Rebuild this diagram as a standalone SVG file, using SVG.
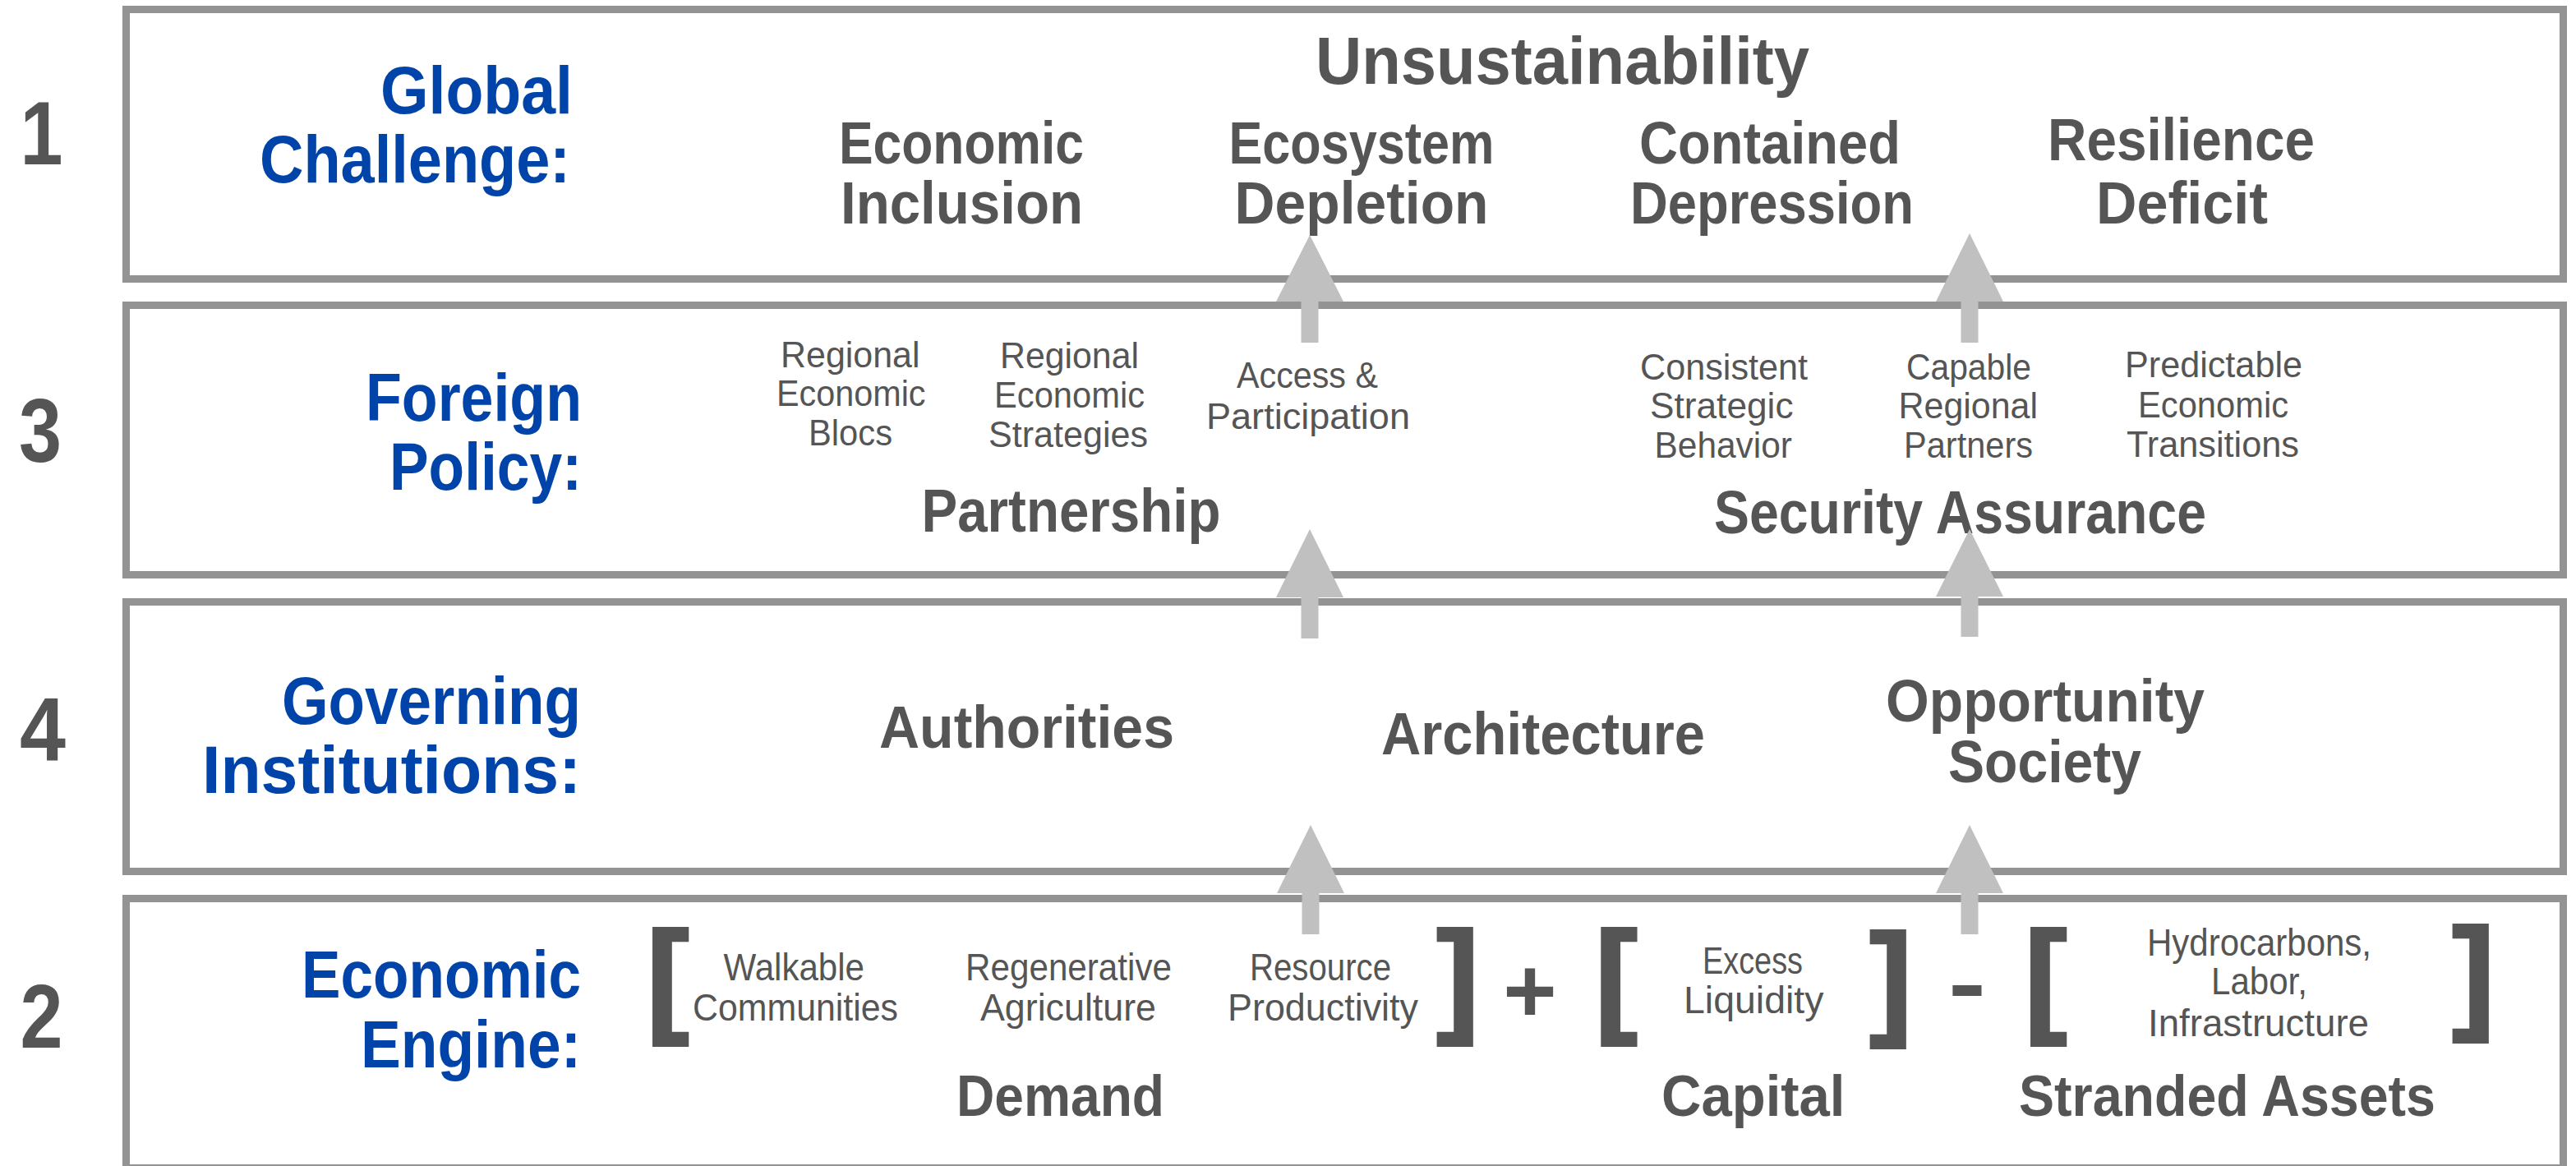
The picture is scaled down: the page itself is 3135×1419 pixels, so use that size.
<svg xmlns="http://www.w3.org/2000/svg" width="3135" height="1419" viewBox="0 0 3135 1419">
<style>
text{font-family:"Liberation Sans Narrow","Liberation Sans",Arial,sans-serif;fill:#555555}
.box{fill:#ffffff;stroke:#939393;stroke-width:9}
.num{font-weight:700;font-size:110px}
.lbl{font-weight:700;font-size:81px;fill:#0043A9}
.big{font-weight:700;font-size:82px}
.mid{font-weight:700;font-size:73px}
.sm{font-weight:400;font-size:45px}
.sm4{font-weight:400;font-size:46px}
.op{font-family:"Liberation Sans",Arial,sans-serif;font-weight:700}
.br{font-family:"Liberation Sans",Arial,sans-serif;font-weight:700;font-size:152px;text-anchor:middle;stroke:#555555;stroke-width:4}
.arrow{fill:#C0C0C0}
</style>
<rect width="3135" height="1419" fill="#ffffff"/>

<g id="layer-global-challenge">
  <rect class="box" x="153.5" y="11.5" width="2966" height="328"/>
  <text class="num" x="24.5" y="200" textLength="52" lengthAdjust="spacingAndGlyphs">1</text>
  <text class="lbl" x="463" y="138" textLength="234" lengthAdjust="spacingAndGlyphs">Global</text>
  <text class="lbl" x="316" y="222" textLength="378" lengthAdjust="spacingAndGlyphs">Challenge:</text>
  <g id="unsustainability"><text class="big" x="1601" y="102" textLength="601" lengthAdjust="spacingAndGlyphs">Unsustainability</text></g>
  <g id="economic-inclusion">
    <text class="mid" x="1021" y="199" textLength="298" lengthAdjust="spacingAndGlyphs">Economic</text>
    <text class="mid" x="1023" y="272" textLength="295" lengthAdjust="spacingAndGlyphs">Inclusion</text>
  </g>
  <g id="ecosystem-depletion">
    <text class="mid" x="1495.5" y="199" textLength="323" lengthAdjust="spacingAndGlyphs">Ecosystem</text>
    <text class="mid" x="1502.5" y="272" textLength="309" lengthAdjust="spacingAndGlyphs">Depletion</text>
  </g>
  <g id="contained-depression">
    <text class="mid" x="1995" y="199" textLength="318" lengthAdjust="spacingAndGlyphs">Contained</text>
    <text class="mid" x="1984" y="272" textLength="345" lengthAdjust="spacingAndGlyphs">Depression</text>
  </g>
  <g id="resilience-deficit">
    <text class="mid" x="2492" y="195" textLength="325" lengthAdjust="spacingAndGlyphs">Resilience</text>
    <text class="mid" x="2551" y="272" textLength="209" lengthAdjust="spacingAndGlyphs">Deficit</text>
  </g>
</g>

<g id="layer-foreign-policy">
  <rect class="box" x="153.5" y="371.5" width="2966" height="328"/>
  <text class="num" x="23" y="562" textLength="52" lengthAdjust="spacingAndGlyphs">3</text>
  <text class="lbl" x="445" y="512" textLength="263" lengthAdjust="spacingAndGlyphs">Foreign</text>
  <text class="lbl" x="474" y="596" textLength="234" lengthAdjust="spacingAndGlyphs">Policy:</text>
  <g id="regional-economic-blocs">
    <text class="sm" x="950" y="447" textLength="169.5" lengthAdjust="spacingAndGlyphs">Regional</text>
    <text class="sm" x="945" y="494" textLength="181.5" lengthAdjust="spacingAndGlyphs">Economic</text>
    <text class="sm" x="984" y="542" textLength="102" lengthAdjust="spacingAndGlyphs">Blocs</text>
  </g>
  <g id="regional-economic-strategies">
    <text class="sm" x="1217" y="448" textLength="169" lengthAdjust="spacingAndGlyphs">Regional</text>
    <text class="sm" x="1210" y="496" textLength="183" lengthAdjust="spacingAndGlyphs">Economic</text>
    <text class="sm" x="1203" y="544" textLength="194" lengthAdjust="spacingAndGlyphs">Strategies</text>
  </g>
  <g id="access-participation">
    <text class="sm" x="1505" y="472" textLength="172" lengthAdjust="spacingAndGlyphs">Access &amp;</text>
    <text class="sm" x="1468" y="522" textLength="248" lengthAdjust="spacingAndGlyphs">Participation</text>
  </g>
  <g id="consistent-strategic-behavior">
    <text class="sm" x="1996" y="462" textLength="204" lengthAdjust="spacingAndGlyphs">Consistent</text>
    <text class="sm" x="2008" y="509" textLength="174.5" lengthAdjust="spacingAndGlyphs">Strategic</text>
    <text class="sm" x="2013.5" y="557" textLength="167.5" lengthAdjust="spacingAndGlyphs">Behavior</text>
  </g>
  <g id="capable-regional-partners">
    <text class="sm" x="2320" y="462" textLength="152" lengthAdjust="spacingAndGlyphs">Capable</text>
    <text class="sm" x="2310.5" y="509" textLength="169.5" lengthAdjust="spacingAndGlyphs">Regional</text>
    <text class="sm" x="2317" y="557" textLength="157" lengthAdjust="spacingAndGlyphs">Partners</text>
  </g>
  <g id="predictable-economic-transitions">
    <text class="sm" x="2586" y="459" textLength="216" lengthAdjust="spacingAndGlyphs">Predictable</text>
    <text class="sm" x="2602" y="508" textLength="183" lengthAdjust="spacingAndGlyphs">Economic</text>
    <text class="sm" x="2588" y="556" textLength="210" lengthAdjust="spacingAndGlyphs">Transitions</text>
  </g>
  <g id="partnership"><text class="mid" style="font-size:74px" x="1121.5" y="647" textLength="364" lengthAdjust="spacingAndGlyphs">Partnership</text></g>
  <g id="security-assurance"><text class="mid" style="font-size:74px" x="2086" y="649" textLength="599" lengthAdjust="spacingAndGlyphs">Security Assurance</text></g>
</g>

<g id="layer-governing-institutions">
  <rect class="box" x="153.5" y="732.5" width="2966" height="328"/>
  <text class="num" x="24" y="925" textLength="56" lengthAdjust="spacingAndGlyphs">4</text>
  <text class="lbl" x="343" y="881" textLength="364" lengthAdjust="spacingAndGlyphs">Governing</text>
  <text class="lbl" x="246" y="965" textLength="461" lengthAdjust="spacingAndGlyphs">Institutions:</text>
  <g id="authorities"><text class="mid" style="font-size:72px" x="1070" y="910" textLength="359" lengthAdjust="spacingAndGlyphs">Authorities</text></g>
  <g id="architecture"><text class="mid" style="font-size:72px" x="1681" y="918" textLength="394" lengthAdjust="spacingAndGlyphs">Architecture</text></g>
  <g id="opportunity-society">
    <text class="mid" style="font-size:72px" x="2295" y="878" textLength="388" lengthAdjust="spacingAndGlyphs">Opportunity</text>
    <text class="mid" style="font-size:72px" x="2371" y="952" textLength="235" lengthAdjust="spacingAndGlyphs">Society</text>
  </g>
</g>

<g id="layer-economic-engine">
  <rect class="box" x="153.5" y="1093.5" width="2966" height="328"/>
  <text class="num" x="24.5" y="1275" textLength="52" lengthAdjust="spacingAndGlyphs">2</text>
  <text class="lbl" x="367" y="1214" textLength="340" lengthAdjust="spacingAndGlyphs">Economic</text>
  <text class="lbl" x="439" y="1299" textLength="268" lengthAdjust="spacingAndGlyphs">Engine:</text>
  <g id="demand">
    <text class="br" x="812.7" y="1240">[</text>
    <text class="sm4" x="880.5" y="1193" textLength="171.5" lengthAdjust="spacingAndGlyphs">Walkable</text>
    <text class="sm4" x="843" y="1242" textLength="250" lengthAdjust="spacingAndGlyphs">Communities</text>
    <text class="sm4" x="1175" y="1193" textLength="251" lengthAdjust="spacingAndGlyphs">Regenerative</text>
    <text class="sm4" x="1193" y="1242" textLength="214" lengthAdjust="spacingAndGlyphs">Agriculture</text>
    <text class="sm4" x="1521" y="1193" textLength="172" lengthAdjust="spacingAndGlyphs">Resource</text>
    <text class="sm4" x="1494" y="1242" textLength="232" lengthAdjust="spacingAndGlyphs">Productivity</text>
    <text class="br" x="1774" y="1240">]</text>
    <text class="mid" style="font-size:71px" x="1164" y="1358" textLength="253" lengthAdjust="spacingAndGlyphs">Demand</text>
  </g>
  <text class="op" x="1862" y="1244" style="font-size:112px" text-anchor="middle">+</text>
  <g id="capital">
    <text class="br" x="1967" y="1240">[</text>
    <text class="sm4" x="2072" y="1185" textLength="122" lengthAdjust="spacingAndGlyphs">Excess</text>
    <text class="sm4" x="2049" y="1233" textLength="170.5" lengthAdjust="spacingAndGlyphs">Liquidity</text>
    <text class="br" x="2301" y="1243">]</text>
    <text class="mid" style="font-size:71px" x="2022" y="1358" textLength="223.5" lengthAdjust="spacingAndGlyphs">Capital</text>
  </g>
  <text class="op" x="2371" y="1234" style="font-size:110px" textLength="46" lengthAdjust="spacingAndGlyphs">-</text>
  <g id="stranded-assets">
    <text class="br" x="2489.7" y="1240">[</text>
    <text class="sm4" x="2613" y="1163" textLength="273" lengthAdjust="spacingAndGlyphs">Hydrocarbons,</text>
    <text class="sm4" x="2691" y="1210" textLength="117" lengthAdjust="spacingAndGlyphs">Labor,</text>
    <text class="sm4" x="2614" y="1261" textLength="269" lengthAdjust="spacingAndGlyphs">Infrastructure</text>
    <text class="br" x="3010" y="1236">]</text>
    <text class="mid" style="font-size:71px" x="2457" y="1358" textLength="507" lengthAdjust="spacingAndGlyphs">Stranded Assets</text>
  </g>
</g>

<g id="connectors">
  <path class="arrow" d="M1594 286 L1635 367 L1604.5 367 L1604.5 417 L1583.5 417 L1583.5 367 L1553 367 Z"/>
  <path class="arrow" d="M1594 644 L1635 727 L1604.5 727 L1604.5 777 L1583.5 777 L1583.5 727 L1553 727 Z"/>
  <path class="arrow" d="M1595 1004 L1636 1087 L1605.5 1087 L1605.5 1137 L1584.5 1137 L1584.5 1087 L1554 1087 Z"/>
  <path class="arrow" d="M2397 284 L2438 367 L2407.5 367 L2407.5 417 L2386.5 417 L2386.5 367 L2356 367 Z"/>
  <path class="arrow" d="M2397 644 L2438 726 L2407.5 726 L2407.5 775 L2386.5 775 L2386.5 726 L2356 726 Z"/>
  <path class="arrow" d="M2397 1004 L2438 1087 L2407.5 1087 L2407.5 1137 L2386.5 1137 L2386.5 1087 L2356 1087 Z"/>
</g>
</svg>
